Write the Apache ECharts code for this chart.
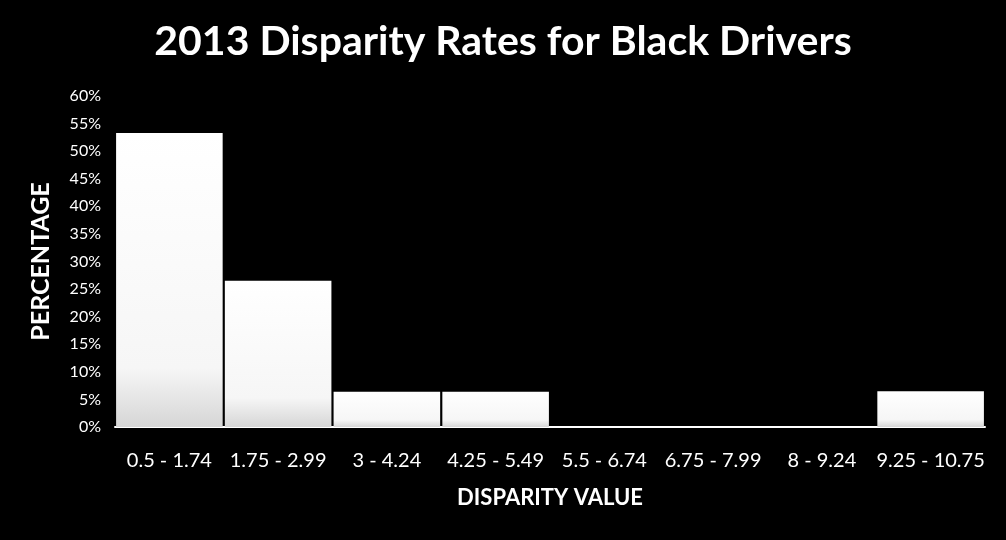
<!DOCTYPE html>
<html>
<head>
<meta charset="utf-8">
<script src="https://cdn.jsdelivr.net/npm/echarts@6/dist/echarts.min.js"></script>
<style>
  html, body { margin: 0; padding: 0; background: #000; }
  #chart { width: 1006px; height: 540px; }
</style>
</head>
<body>
<div id="chart"></div>
<script>
// disparity ranges on the x axis
const categories = ['0.5 - 1.74', '1.75 - 2.99', '3 - 4.24', '4.25 - 5.49', '5.5 - 6.74', '6.75 - 7.99', '8 - 9.24', '9.25 - 10.75']
// percentage of drivers in each range
const percentages = [53.3, 26.5, 6.4, 6.4, 0, 0, 0, 6.5]
const titleText = '2013 Disparity Rates for Black Drivers'

const font = 'Lato, "Open Sans", sans-serif'

let myChart = echarts.init(document.getElementById('chart'))

let option = {
    backgroundColor: '#000',
    animation: false,
    title: {
        text: titleText,
        left: 'center',
        top: 16,
        textStyle: {
            color: '#fff',
            fontFamily: font,
            fontWeight: 'bold',
            fontSize: 41
        }
    },
    grid: {
        left: 115,
        right: 21,
        top: 96,
        bottom: 113,
        containLabel: false
    },
    xAxis: {
        type: 'category',
        data: categories,
        name: 'DISPARITY VALUE',
        nameLocation: 'middle',
        nameGap: 60,
        nameTextStyle: {
            color: '#fff',
            fontFamily: font,
            fontWeight: 'bold',
            fontSize: 22
        },
        axisLine: { lineStyle: { color: '#fff', width: 2 } },
        axisTick: { show: false },
        axisLabel: {
            color: '#fff',
            fontFamily: font,
            fontSize: 20,
            margin: 24,
            interval: 0
        }
    },
    yAxis: {
        type: 'value',
        min: 0,
        max: 60,
        interval: 5,
        name: 'PERCENTAGE',
        nameLocation: 'middle',
        nameGap: 62,
        nameTextStyle: {
            color: '#fff',
            fontFamily: font,
            fontWeight: 'bold',
            fontSize: 25
        },
        axisLine: { show: false },
        axisTick: { show: false },
        splitLine: { show: false },
        axisLabel: {
            color: '#fff',
            fontFamily: font,
            fontSize: 16,
            margin: 14,
            formatter: '{value}%'
        }
    },
    series: [
        {
            type: 'bar',
            data: percentages,
            barCategoryGap: '2%',
            itemStyle: {
                color: {
                    type: 'linear',
                    x: 0, y: 0, x2: 0, y2: 1,
                    colorStops: [
                        { offset: 0, color: '#ffffff' },
                        { offset: 0.8, color: '#f6f6f6' },
                        { offset: 1, color: '#d6d6d6' }
                    ]
                }
            }
        }
    ]
}

myChart.setOption(option)
</script>
</body>
</html>
